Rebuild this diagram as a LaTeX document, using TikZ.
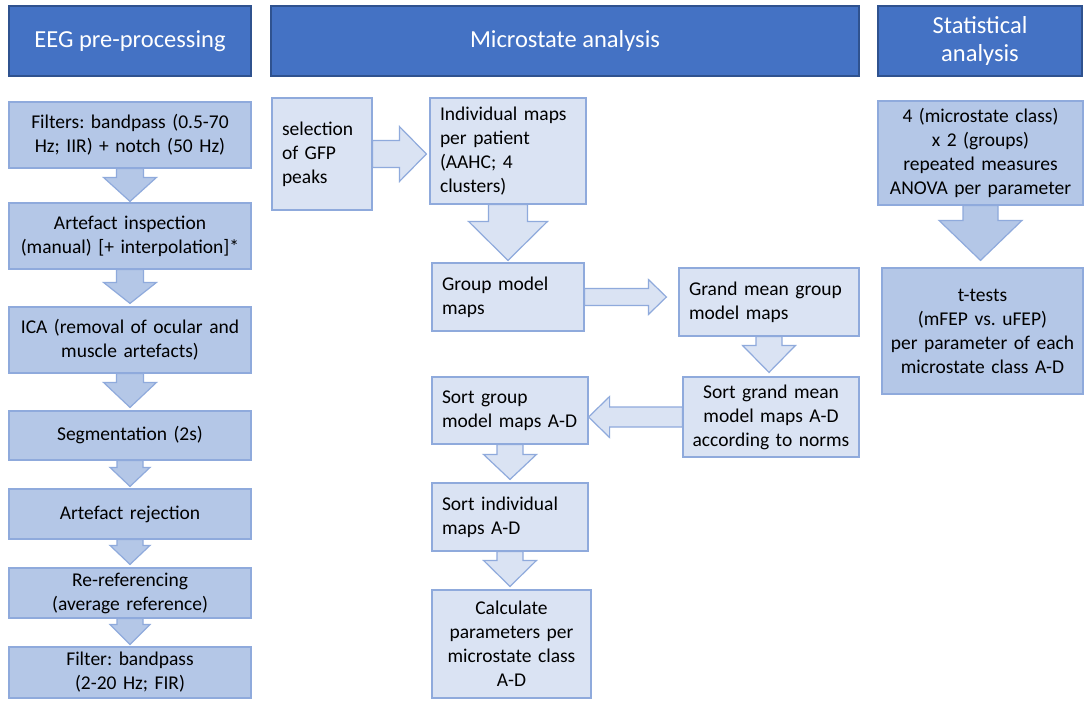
\documentclass[tikz,border=0pt]{standalone}
\usepackage{fontspec}
\setmainfont{Carlito}
\frenchspacing
\usetikzlibrary{calc}
\definecolor{hdr}{HTML}{4472C4}
\definecolor{hdrline}{HTML}{2F528F}
\definecolor{darkfill}{HTML}{B4C7E7}
\definecolor{lightfill}{HTML}{DAE3F3}
\definecolor{edgeblue}{HTML}{8FAADC}
\tikzset{
  hbox/.style={draw=hdrline, fill=hdr, line width=1.2pt, text=white,
    font=\fontsize{24.5}{28}\selectfont, align=center, inner sep=0pt},
  dbox/.style={draw=edgeblue, fill=darkfill, line width=1.2pt,
    font=\fontsize{19.5}{24}\selectfont, inner xsep=4pt, inner ysep=0pt, align=center},
  lbox/.style={draw=edgeblue, fill=lightfill, line width=1.2pt,
    font=\fontsize{19.5}{24}\selectfont, inner xsep=10pt, inner ysep=0pt, align=left},
  lcbox/.style={lbox, inner xsep=4pt, align=center},
  darr/.style={draw=edgeblue, fill=darkfill, line width=1.2pt, line join=miter},
  larr/.style={draw=edgeblue, fill=lightfill, line width=1.2pt, line join=miter},
}
% #1 style, #2 from, #3 to, #4 shaft half, #5 head half, #6 head length, #7 gap
\newcommand\vblk[7]{\draw[#1] let \p1=(#2.south), \p2=(#3.north) in
  (\x1-#4pt,\y1) -- (\x1-#4pt,\y2+#7pt+#6pt) -- (\x1-#5pt,\y2+#7pt+#6pt) --
  (\x1,\y2+#7pt) -- (\x1+#5pt,\y2+#7pt+#6pt) -- (\x1+#4pt,\y2+#7pt+#6pt) --
  (\x1+#4pt,\y1) -- cycle;}
\newcommand\rblk[7]{\draw[#1] let \p1=(#2.east), \p2=(#3.west) in
  (\x1,\y1+#4pt) -- (\x2-#7pt-#6pt,\y1+#4pt) -- (\x2-#7pt-#6pt,\y1+#5pt) --
  (\x2-#7pt,\y1) -- (\x2-#7pt-#6pt,\y1-#5pt) -- (\x2-#7pt-#6pt,\y1-#4pt) --
  (\x1,\y1-#4pt) -- cycle;}
\newcommand\lblk[7]{\draw[#1] let \p1=(#2.west), \p2=(#3.east) in
  (\x1,\y1+#4pt) -- (\x2+#7pt+#6pt,\y1+#4pt) -- (\x2+#7pt+#6pt,\y1+#5pt) --
  (\x2+#7pt,\y1) -- (\x2+#7pt+#6pt,\y1-#5pt) -- (\x2+#7pt+#6pt,\y1-#4pt) --
  (\x1,\y1-#4pt) -- cycle;}
\begin{document}
\begin{tikzpicture}[x=1pt,y=-1pt]
\useasboundingbox[fill=white] (0,0) rectangle (1084,705);
% headers
\node[hbox, minimum width=242pt, minimum height=70pt] (h1) at (130,41) {EEG pre-processing};
\node[hbox, minimum width=588pt, minimum height=70pt] (h2) at (565,41) {Microstate analysis};
\node[hbox, minimum width=204pt, minimum height=70pt] (h3) at (980,41) {Statistical\\analysis};
% left column
\node[dbox, minimum width=242pt, minimum height=66pt, text width=234pt] (f1) at (130,135) {Filters: bandpass (0.5-70\\Hz; IIR) + notch (50 Hz)};
\node[dbox, minimum width=242pt, minimum height=66pt, text width=234pt] (f2) at (130,236) {Artefact inspection\\(manual) [+ interpolation]*};
\node[dbox, minimum width=242pt, minimum height=66pt, text width=234pt] (f3) at (130,340) {ICA (removal of ocular and\\muscle artefacts)};
\node[dbox, minimum width=242pt, minimum height=49pt, text width=234pt] (f4) at (130,435.5) {Segmentation (2s)};
\node[dbox, minimum width=242pt, minimum height=50pt, text width=234pt] (f5) at (130,514) {Artefact rejection};
\node[dbox, minimum width=242pt, minimum height=50pt, text width=234pt] (f6) at (130,593) {Re-referencing\\(average reference)};
\node[dbox, minimum width=242pt, minimum height=51pt, text width=234pt] (f7) at (130,672.5) {Filter: bandpass\\(2-20 Hz; FIR)};
\vblk{darr}{f1}{f2}{13.5}{26.5}{24}{1}
\vblk{darr}{f2}{f3}{13.5}{26.5}{21}{3}
\vblk{darr}{f3}{f4}{13.5}{26.5}{25}{3}
\vblk{darr}{f4}{f5}{13}{20}{19}{2}
\vblk{darr}{f5}{f6}{13}{20}{19}{3}
\vblk{darr}{f6}{f7}{13}{20}{20}{2}
% middle column
\node[lbox, minimum width=100pt, minimum height=112pt, text width=80pt] (sel) at (322,154) {selection\\of GFP\\peaks};
\node[lbox, minimum width=156pt, minimum height=106pt, text width=136pt] (ind) at (508,151) {Individual maps\\per patient\\(AAHC; 4\\clusters)};
\node[lbox, minimum width=152pt, minimum height=68pt, text width=132pt] (grp) at (508,297) {Group model\\maps};
\node[lbox, minimum width=180pt, minimum height=68pt, text width=160pt] (gm) at (769,302) {Grand mean group\\model maps};
\node[lcbox, minimum width=176pt, minimum height=80pt, text width=168pt] (sgm) at (771,417) {Sort grand mean\\model maps A-D\\according to norms};
\node[lbox, minimum width=156pt, minimum height=67pt, text width=136pt] (sg) at (510,410.5) {Sort group\\model maps A-D};
\node[lbox, minimum width=156pt, minimum height=68pt, text width=136pt] (si) at (510,517) {Sort individual\\maps A-D};
\node[lcbox, minimum width=159pt, minimum height=108pt, text width=151pt] (calc) at (511.5,644) {Calculate\\parameters per\\microstate class\\A-D};
\rblk{larr}{sel}{ind}{13.5}{27.5}{27}{3}
\vblk{larr}{ind}{grp}{19.5}{39.5}{39}{2}
\rblk{larr}{grp}{gm}{8.5}{17.5}{18}{12}
\vblk{larr}{gm}{sgm}{13}{26.5}{27}{4}
\lblk{larr}{sgm}{sg}{10}{20.5}{21}{0}
\vblk{larr}{sg}{si}{13}{26.5}{25}{3}
\vblk{larr}{si}{calc}{13}{26.5}{26}{3}
% right column
\node[dbox, minimum width=205pt, minimum height=104pt, text width=197pt] (anova) at (980.5,153) {4 (microstate class)\\x 2 (groups)\\repeated measures\\ANOVA per parameter};
\node[dbox, minimum width=201pt, minimum height=126pt, text width=193pt] (tt) at (982.5,331) {t-tests\\(mFEP vs. uFEP)\\per parameter of each\\microstate class A-D};
\vblk{darr}{anova}{tt}{17.5}{41.5}{40}{7}
\end{tikzpicture}
\end{document}
